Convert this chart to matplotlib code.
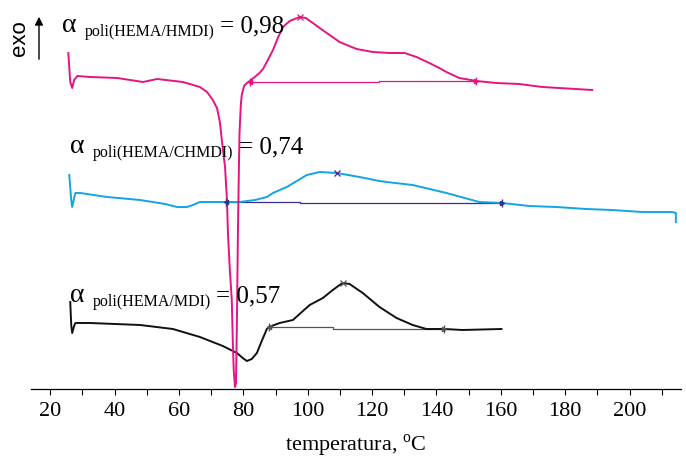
import matplotlib
matplotlib.use('Agg')
import matplotlib.pyplot as plt
from matplotlib.ticker import MultipleLocator

plt.rcParams['font.family'] = ['Liberation Serif', 'DejaVu Serif']
plt.rcParams['mathtext.fontset'] = 'custom'
plt.rcParams['mathtext.rm'] = 'Liberation Serif'

# DSC curves, arbitrary heat-flow units (exo up)
T_HMDI = [25.6, 26.2, 26.8, 27.4, 28.4, 32.4, 40.8, 48.8, 53.2, 61.2, 66.5, 68.7,
          70.5, 71.8, 72.7, 73.3, 74.3, 74.9, 75.2, 75.8, 76.4, 76.7, 77.0, 77.4,
          77.7, 78.0, 78.3, 78.6, 78.8, 79.2, 79.5, 80.2, 81.1, 82.0, 83.9, 85.0,
          86.1, 87.6, 89.2, 90.7, 92.3, 94.4, 97.5, 99.4, 101.6, 103.7, 106.8,
          109.9, 112.1, 115.2, 120.2, 125.4, 130.1, 133.8, 137.8, 140.9, 143.1,
          147.1, 152.4, 158.6, 165.7, 172.9, 178.1, 188.4]
S_HMDI = [336, 307, 301, 309, 313, 312, 311, 307, 310, 307, 302, 297,
          289, 281, 267, 249, 222, 189, 156, 119, 89, 49, 19, 2,
          6, 69, 156, 219, 256, 284, 294, 303, 306, 308, 313, 316,
          320, 329, 339, 351, 362, 368, 372, 371, 366, 361, 354,
          347, 344, 340, 337, 336, 336, 332, 326, 321, 317,
          311, 308, 306, 305, 302, 301, 299]
BASE_HMDI_T = [82.0, 122.3, 122.3, 152.4]
BASE_HMDI_S = [307, 307, 308, 308]
PEAK_HMDI = (97.5, 372)

T_CHMDI = [25.9, 26.5, 26.8, 27.4, 27.8, 29.3, 37.7, 47.9, 55.7, 59.4, 62.5, 64.3,
           66.5, 74.9, 78.9, 83.6, 87.3, 89.2, 93.5, 99.7, 103.7, 109.0, 116.1,
           122.3, 124.5, 132.6, 143.1, 153.3, 160.5, 168.8, 177.2, 186.5, 194.6,
           203.9, 213.2, 214.4, 214.4]
S_CHMDI = [214, 189, 182, 191, 196, 196, 192, 189, 185, 182, 182, 184,
           187, 187, 187, 189, 192, 196, 202, 214, 217, 216, 212,
           208, 207, 204, 196, 187, 186, 183, 182, 180, 179,
           177, 177, 176, 167]
BASE_CHMDI_T = [74.6, 97.5, 97.5, 160.5]
BASE_CHMDI_S = [187, 187, 186, 186]
PEAK_CHMDI = (109.0, 216)

T_MDI = [26.2, 26.5, 26.8, 27.4, 27.8, 32.4, 47.9, 58.1, 66.5, 73.6, 78.0, 79.8,
         81.1, 82.6, 84.2, 85.7, 87.3, 87.9, 91.3, 95.4, 100.6, 104.7, 107.8,
         109.9, 110.9, 113.0, 117.1, 122.3, 127.6, 132.6, 136.9, 142.5, 148.1, 160.2]
S_MDI = [87, 64, 56, 63, 66, 66, 64, 60, 52, 43, 36, 31,
         28, 30, 36, 48, 60, 62, 66, 69, 84, 91, 99,
         104, 106, 105, 96, 82, 71, 64, 60, 60, 59, 60]
BASE_MDI_T = [87.9, 107.8, 107.8, 142.5]
BASE_MDI_S = [62, 62, 60, 60]
PEAK_MDI = (110.9, 106)

XTICKS = [20, 40, 60, 80, 100, 120, 140, 160, 180, 200]

PINK = '#e5147f'
CYAN = '#12a5e2'
NAVY = '#3a2d8c'
W, H = 686.0, 462.0


def draw_curve(ax, t, s, bt, bs, peak, color, base_color):
    ax.plot(t, s, color=color, lw=1.4, zorder=3)
    ax.plot(bt, bs, color=base_color, lw=0.9, zorder=2)
    ax.plot([bt[0]], [bs[0]], marker='|', ms=6, mew=1.0, color=base_color, zorder=4)
    ax.plot([bt[0]], [bs[0]], marker='<', ms=3, color=base_color, zorder=4)
    ax.plot([bt[-1]], [bs[-1]], marker='|', ms=6, mew=1.0, color=base_color, zorder=4)
    ax.plot([bt[-1]], [bs[-1]], marker='>', ms=3, color=base_color, zorder=4)
    ax.plot([peak[0]], [peak[1]], marker='x', ms=4, mew=0.9, color=base_color, zorder=4)


def label(fig, renderer, x, y, sub, value):
    fig.text(x / W, 1 - y / H, '\u03b1', fontsize=20, va='baseline')
    t = fig.text((x + 23) / W, 1 - (y + 4) / H, sub, fontsize=11.5, va='baseline')
    x_end = t.get_window_extent(renderer).x1
    fig.text((x_end + 5) / W, 1 - y / H, '= ' + value, fontsize=18, va='baseline')


fig = plt.figure(figsize=(6.86, 4.62), dpi=100)
renderer = fig.canvas.get_renderer()
ax = fig.add_axes([31 / W, 73 / H, 650 / W, 389 / H])
ax.set_xlim(14, 216)
ax.set_ylim(0, 389)

draw_curve(ax, T_MDI, S_MDI, BASE_MDI_T, BASE_MDI_S, PEAK_MDI, '#111111', '#555555')
draw_curve(ax, T_CHMDI, S_CHMDI, BASE_CHMDI_T, BASE_CHMDI_S, PEAK_CHMDI, CYAN, NAVY)
draw_curve(ax, T_HMDI, S_HMDI, BASE_HMDI_T, BASE_HMDI_S, PEAK_HMDI, PINK, PINK)

for side in ['left', 'right', 'top']:
    ax.spines[side].set_visible(False)
ax.spines['bottom'].set_linewidth(0.9)
ax.set_yticks([])
ax.set_xticks(XTICKS)
ax.xaxis.set_minor_locator(MultipleLocator(10))
ax.tick_params(axis='x', which='both', direction='out', length=4, width=0.8,
               labelsize=16, pad=5)
ax.set_xlabel('temperatura, $^{\\mathrm{o}}$C', fontsize=16, labelpad=9)

label(fig, renderer, 62, 32, 'poli(HEMA/HMDI)', '0,98')
label(fig, renderer, 70, 153, 'poli(HEMA/CHMDI)', '0,74')
label(fig, renderer, 70, 302, 'poli(HEMA/MDI)', '0,57')

fig.text(20 / W, 1 - 38 / H, 'exo', rotation=90, fontsize=16,
         ha='center', va='center', family=['Liberation Sans', 'DejaVu Sans'])
ax.annotate('', xy=(39, 448), xycoords='figure pixels',
            xytext=(39, 400), textcoords='figure pixels',
            arrowprops=dict(arrowstyle='-|>', color='black', lw=1.0,
                            mutation_scale=12))

fig.savefig('out.png', dpi=100)
